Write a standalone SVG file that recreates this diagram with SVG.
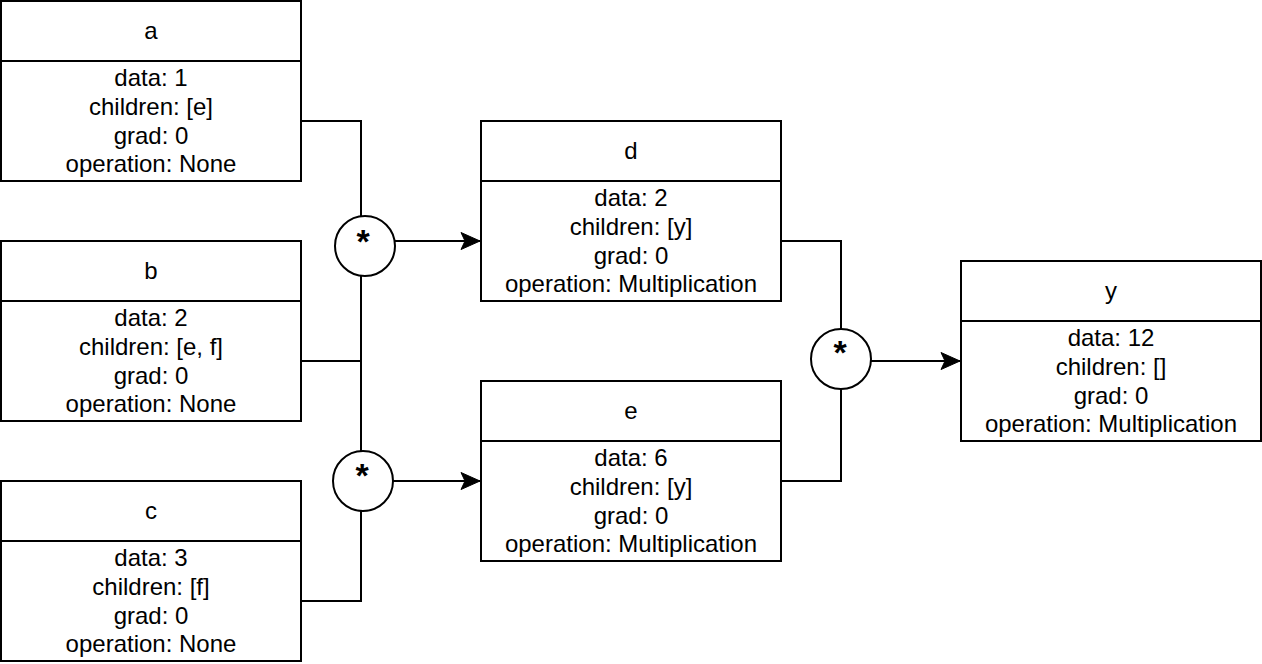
<svg xmlns="http://www.w3.org/2000/svg" width="1262" height="664" viewBox="0 0 1262 664">
<style>
.box{fill:#fff;stroke:#000;stroke-width:2}
.div{stroke:#000;stroke-width:2}
text{font-family:"Liberation Sans",Arial,sans-serif;font-size:24px;fill:#000;text-anchor:middle}
.op{font-size:34px;font-weight:bold}
.ln{fill:none;stroke:#000;stroke-width:2}
.circ{fill:#fff;stroke:#000;stroke-width:2}
</style>
<defs>
<marker id="arr" markerUnits="userSpaceOnUse" markerWidth="22" markerHeight="20" viewBox="-20 -10 22 20" refX="0" refY="0" orient="auto">
<path d="M0,0 L-19,-8.5 L-15,0 L-19,8.5 Z" fill="#000" stroke="#000" stroke-width="1"/>
</marker>
</defs>
<g id="connectors">
<polyline class="ln" points="301,121 361,121 361,220"/>
<polyline class="ln" points="301,361 361,361"/>
<line class="ln" x1="361" y1="276" x2="361" y2="451"/>
<polyline class="ln" points="301,601 361,601 361,511"/>
<line class="ln" x1="395" y1="241" x2="480" y2="241" marker-end="url(#arr)"/>
<line class="ln" x1="393" y1="481" x2="480" y2="481" marker-end="url(#arr)"/>
<polyline class="ln" points="781,241 841,241 841,329"/>
<polyline class="ln" points="781,481 841,481 841,389"/>
<line class="ln" x1="871" y1="361" x2="960" y2="361" marker-end="url(#arr)"/>
</g>
<g id="op1"><circle class="circ" cx="365" cy="246" r="30"/><text class="op" x="363" y="253">*</text></g>
<g id="op2"><circle class="circ" cx="363" cy="481" r="30"/><text class="op" x="362" y="487">*</text></g>
<g id="op3"><circle class="circ" cx="841" cy="359" r="30"/><text class="op" x="840" y="364">*</text></g>
<g id="node-a">
<rect class="box" x="1" y="1" width="300" height="180"/><line class="div" x1="1" y1="61" x2="301" y2="61"/>
<text x="151" y="39">a</text>
<text x="151" y="86">data: 1</text><text x="151" y="115">children: [e]</text><text x="151" y="143.5">grad: 0</text><text x="151" y="172">operation: None</text>
</g>
<g id="node-b">
<rect class="box" x="1" y="241" width="300" height="180"/><line class="div" x1="1" y1="301" x2="301" y2="301"/>
<text x="151" y="279">b</text>
<text x="151" y="326">data: 2</text><text x="151" y="355">children: [e, f]</text><text x="151" y="383.5">grad: 0</text><text x="151" y="412">operation: None</text>
</g>
<g id="node-c">
<rect class="box" x="1" y="481" width="300" height="180"/><line class="div" x1="1" y1="541" x2="301" y2="541"/>
<text x="151" y="519">c</text>
<text x="151" y="566">data: 3</text><text x="151" y="595">children: [f]</text><text x="151" y="623.5">grad: 0</text><text x="151" y="652">operation: None</text>
</g>
<g id="node-d">
<rect class="box" x="481" y="121" width="300" height="180"/><line class="div" x1="481" y1="181" x2="781" y2="181"/>
<text x="631" y="159">d</text>
<text x="631" y="206">data: 2</text><text x="631" y="235">children: [y]</text><text x="631" y="263.5">grad: 0</text><text x="631" y="292">operation: Multiplication</text>
</g>
<g id="node-e">
<rect class="box" x="481" y="381" width="300" height="180"/><line class="div" x1="481" y1="441" x2="781" y2="441"/>
<text x="631" y="419">e</text>
<text x="631" y="466">data: 6</text><text x="631" y="495">children: [y]</text><text x="631" y="523.5">grad: 0</text><text x="631" y="552">operation: Multiplication</text>
</g>
<g id="node-y">
<rect class="box" x="961" y="261" width="300" height="180"/><line class="div" x1="961" y1="321" x2="1261" y2="321"/>
<text x="1111" y="299">y</text>
<text x="1111" y="346">data: 12</text><text x="1111" y="375">children: []</text><text x="1111" y="403.5">grad: 0</text><text x="1111" y="432">operation: Multiplication</text>
</g>
</svg>
